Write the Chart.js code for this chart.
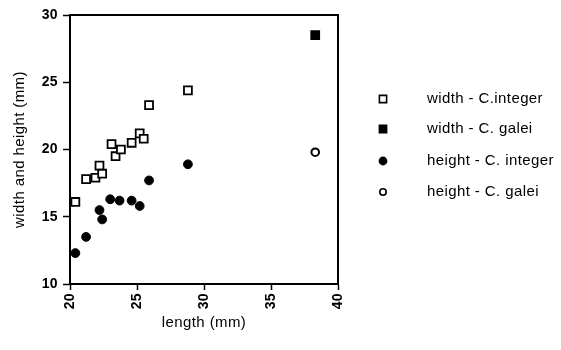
<!DOCTYPE html>
<html>
<head>
<meta charset="utf-8">
<script src="https://cdn.jsdelivr.net/npm/chart.js@4/dist/chart.umd.min.js"></script>
<style>
  html, body { margin: 0; padding: 0; background: #fff; }
  #wrap { width: 561px; height: 350px; }
</style>
</head>
<body>
<div id="wrap"><canvas id="mainChart" width="561" height="350"></canvas></div>
<script>
// values
const widthLengths  = [20.4, 21.2, 21.9, 22.2, 22.4, 23.1, 23.4, 23.8, 24.6, 25.2, 25.5, 25.9, 28.8];
const widthInteger  = [16.1, 17.8, 17.9, 18.8, 18.2, 20.4, 19.5, 20.0, 20.5, 21.2, 20.8, 23.3, 24.4];
const heightLengths = [20.4, 21.2, 22.2, 22.4, 23.0, 23.7, 24.6, 25.2, 25.9, 28.8];
const heightInteger = [12.3, 13.5, 15.5, 14.8, 16.3, 16.2, 16.2, 15.8, 17.7, 18.9];
const galeiLengths  = [38.3];
const widthGalei    = [28.5];
const heightGalei   = [19.8];

const xTicks = [20, 25, 30, 35, 40];
const yTicks = [10, 15, 20, 25, 30];

const seriesLabels = ['width - C.integer', 'width - C. galei', 'height - C. integer', 'height - C. galei'];

function pts(xs, ys) {
  return xs.map((x, i) => ({ x: x, y: ys[i] }));
}

// the scan's lettering runs a bit wide
const spacing = {
  id: 'spacing',
  beforeDraw(chart) {
    chart.ctx.letterSpacing = '0.4px';
  }
};

// box round the plot area
const frame = {
  id: 'frame',
  afterDraw(chart) {
    const { ctx, chartArea: a } = chart;
    ctx.save();
    ctx.strokeStyle = '#000';
    ctx.lineWidth = 2;
    ctx.beginPath();
    ctx.moveTo(a.left, a.top);
    ctx.lineTo(a.right, a.top);
    ctx.lineTo(a.right, a.bottom);
    ctx.stroke();
    ctx.restore();
  }
};

// legend off to the right, wide gap between marker and text
const sideLegend = {
  id: 'sideLegend',
  afterDraw(chart) {
    const ctx = chart.ctx;
    const rows = [99, 129, 161, 192];
    const sizes = [3.6, 3.6, 3.6, 3.2];
    ctx.save();
    ctx.font = '15px "Liberation Sans", Arial, sans-serif';
    ctx.textBaseline = 'middle';
    chart.data.datasets.forEach((ds, i) => {
      const y = rows[i];
      const s = sizes[i];
      ctx.fillStyle = ds.backgroundColor;
      ctx.strokeStyle = '#000';
      ctx.lineWidth = 1.6;
      ctx.beginPath();
      if (ds.pointStyle === 'rect') {
        ctx.rect(383 - s, y - s, 2 * s, 2 * s);
      } else {
        ctx.arc(383, y, s, 0, Math.PI * 2);
      }
      ctx.fill();
      ctx.stroke();
      ctx.fillStyle = '#000';
      ctx.fillText(ds.label, 427, y);
    });
    ctx.restore();
  }
};

const tickFont = { family: '"Liberation Sans", Arial, sans-serif', size: 14, weight: 'bold' };
const titleFont = { family: '"Liberation Sans", Arial, sans-serif', size: 15 };

new Chart(document.getElementById('mainChart').getContext('2d'), {
  type: 'scatter',
  data: {
    datasets: [
      { label: seriesLabels[0], data: pts(widthLengths, widthInteger), pointStyle: 'rect',
        pointRadius: 5.6, backgroundColor: '#fff', borderColor: '#000', borderWidth: 1.8 },
      { label: seriesLabels[1], data: pts(galeiLengths, widthGalei), pointStyle: 'rect',
        pointRadius: 5.6, backgroundColor: '#000', borderColor: '#000', borderWidth: 1.8 },
      { label: seriesLabels[2], data: pts(heightLengths, heightInteger), pointStyle: 'circle',
        pointRadius: 4.4, backgroundColor: '#000', borderColor: '#000', borderWidth: 1 },
      { label: seriesLabels[3], data: pts(galeiLengths, heightGalei), pointStyle: 'circle',
        pointRadius: 3.8, backgroundColor: '#fff', borderColor: '#000', borderWidth: 2 }
    ]
  },
  options: {
    responsive: false,
    animation: false,
    layout: { padding: { left: 0, right: 223, top: 15, bottom: 0 } },
    plugins: {
      legend: { display: false },
      tooltip: { enabled: false }
    },
    scales: {
      x: {
        type: 'linear',
        min: 20, max: 40,
        afterBuildTicks: s => { s.ticks = xTicks.map(v => ({ value: v })); },
        afterFit: s => { s.height = 66; },
        border: { display: true, color: '#000', width: 2 },
        grid: { drawOnChartArea: false, color: '#000', tickLength: 6, tickWidth: 1.5 },
        ticks: { color: '#000', font: tickFont, minRotation: 90, maxRotation: 90, padding: 3 },
        title: { display: true, text: 'length (mm)', color: '#000', font: titleFont, padding: { top: 0, bottom: 18 } }
      },
      y: {
        type: 'linear',
        min: 10, max: 30,
        afterBuildTicks: s => { s.ticks = yTicks.map(v => ({ value: v })); },
        afterFit: s => { s.width = 70; },
        border: { display: true, color: '#000', width: 2 },
        grid: { drawOnChartArea: false, color: '#000', tickLength: 7, tickWidth: 1.5 },
        ticks: { color: '#000', font: tickFont, padding: 5 },
        title: { display: true, text: 'width and height (mm)', color: '#000', font: titleFont, padding: { top: 11, bottom: 0 } }
      }
    }
  },
  plugins: [spacing, frame, sideLegend]
});
</script>
</body>
</html>
